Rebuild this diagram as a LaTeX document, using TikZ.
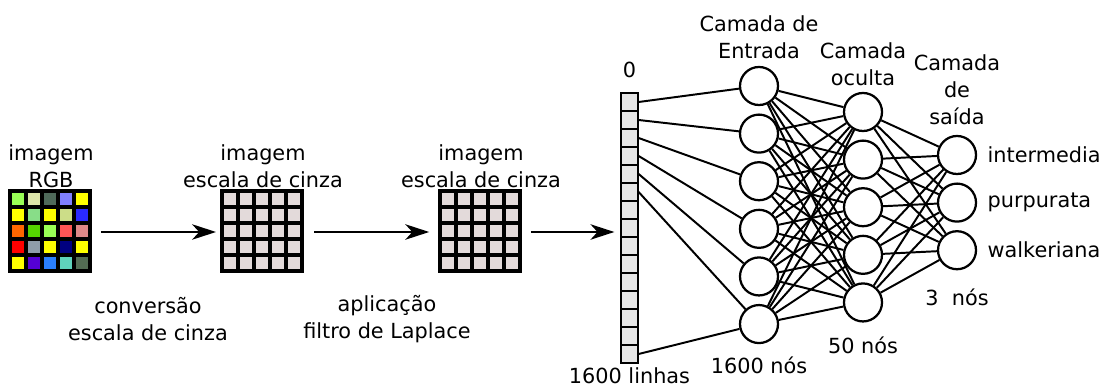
\documentclass[tikz,border=0pt]{standalone}
\usepackage{fontspec}
\setmainfont{DejaVu Sans}
\usepackage{tikz}
\usetikzlibrary{automata, arrows.meta, positioning}
\tikzset{every picture/.style={line width=1.4pt}}
\definecolor{cellgray}{HTML}{E3DADA}
\definecolor{vecgray}{HTML}{E6E6E6}
\definecolor{pxlime}{HTML}{99FF55}
\definecolor{pxpale}{HTML}{DDE5AA}
\definecolor{pxslate}{HTML}{4F6A5A}
\definecolor{pxlav}{HTML}{8080FF}
\definecolor{pxyel}{HTML}{FFFF00}
\definecolor{pxmint}{HTML}{88DD88}
\definecolor{pxolive}{HTML}{CCDD88}
\definecolor{pxblue}{HTML}{2A2AFF}
\definecolor{pxorange}{HTML}{FF6600}
\definecolor{pxgreen}{HTML}{55D400}
\definecolor{pxsalmon}{HTML}{FF5555}
\definecolor{pxrose}{HTML}{DE8888}
\definecolor{pxred}{HTML}{FF0000}
\definecolor{pxsteel}{HTML}{8F9CAA}
\definecolor{pxnavy}{HTML}{000080}
\definecolor{pxviolet}{HTML}{5500D4}
\definecolor{pxazure}{HTML}{2A7FFF}
\definecolor{pxteal}{HTML}{5FD3BC}
\definecolor{pxmoss}{HTML}{536C53}

\begin{document}
\begin{tikzpicture}[x=0.025cm, y=0.025cm, node distance=1.19cm, align=center,
        font=\fontsize{14.8}{19.2}\selectfont,
        every state/.style={draw, line width=1.6pt, fill=white, minimum size=0.95cm, inner sep=0pt},
        imgbox/.style={minimum size=2cm, inner sep=0pt},
        pixcell/.style={draw=black, line width=2.2pt},
        veccell/.style={draw, fill=vecgray, line width=0.9pt, minimum width=0.425cm, minimum height=0.45cm, inner sep=0pt},
        flow/.style={-{Stealth[length=17pt, width=11pt, inset=5pt]}, line width=1.2pt}]
        \useasboundingbox (0,0) rectangle (1108,387);

        % images
        \node[imgbox] (rgb) at (51,155) {};
        \node[imgbox] (gray1) at (263,155) {};
        \node[imgbox] (gray2) at (481,155) {};
        \foreach \px [count=\k from 0] in {pxlime,pxpale,pxslate,pxlav,pxyel,
                pxyel,pxmint,pxyel,pxolive,pxblue,
                pxorange,pxgreen,pxlime,pxsalmon,pxrose,
                pxred,pxsteel,pxyel,pxnavy,pxyel,
                pxyel,pxviolet,pxazure,pxteal,pxmoss}{
            \pgfmathtruncatemacro{\cc}{mod(\k,5)}
            \pgfmathtruncatemacro{\rr}{\k/5}
            \draw[pixcell, fill=\px] ([shift={(16*\cc,-16*\rr)}]rgb.north west) rectangle +(16,-16);
        }
        \foreach \img in {gray1,gray2}
            \foreach \rr in {0,...,4}
                \foreach \cc in {0,...,4}
                    \draw[pixcell, fill=cellgray] ([shift={(16*\cc,-16*\rr)}]\img.north west) rectangle +(16,-16);
        \node[above=-2pt of rgb] (lblrgb) {imagem\\RGB};
        \node[above=-2pt of gray1] (lblgray1) {imagem\\escala de cinza};
        \node[above=-2pt of gray2] (lblgray2) {imagem\\escala de cinza};
        \node (conv) at (148,68) {conversão\\escala de cinza};
        \node (lapl) at (387,68) {aplicação\\filtro de Laplace};

        % vector
        \foreach \i in {0,...,14}
            \node[veccell] (col\i) at (629.5,285-18*\i) {};
        \node[above=6pt of col0] (zero) {0};
        \node[below=-1pt of col14] (linhas) {1600 linhas};

        % network
        \node[state] (in1) at (759,301) {};
        \node[state, below of=in1] (in2) {};
        \node[state, below of=in2] (in3) {};
        \node[state, below of=in3] (in4) {};
        \node[state, below of=in4] (in5) {};
        \node[state, below of=in5] (in6) {};
        \node[state] (hid1) at (863,275) {};
        \node[state, below of=hid1] (hid2) {};
        \node[state, below of=hid2] (hid3) {};
        \node[state, below of=hid3] (hid4) {};
        \node[state, below of=hid4] (hid5) {};
        \node[state] (out1) at (957,232) {};
        \node[state, below of=out1] (out2) {};
        \node[state, below of=out2] (out3) {};

        \node[above=1pt of in1] (lblin) {Camada de\\Entrada};
        \node[above=0pt of hid1] (lblhid) {Camada\\oculta};
        \node[above=3pt of out1] (lblout) {Camada\\de\\saída};
        \node[below=5pt of in6] (nin) {1600 nós};
        \node[below=6pt of hid5] (nhid) {50 nós};
        \node[below=9pt of out3] (nout) {3~ nós};
        \node[right=0.12cm of out1] (cls1) {intermedia};
        \node[right=0.12cm of out2] (cls2) {purpurata};
        \node[right=0.12cm of out3] (cls3) {walkeriana};

        \draw[flow, shorten <=0.22cm, shorten >=0.15cm] (rgb) -- (gray1);
        \draw[flow, shorten <=0.25cm, shorten >=0.27cm] (gray1) -- (gray2);
        \draw[flow, shorten <=0.22cm, shorten >=0.15cm] (gray2.east) -- (gray2.east -| col0.west);
        \draw
            (col0.east) edge (in1)
            (col1.east) edge (in2)
            (col2.east) edge (in3)
            (col3.east) edge (in4)
            (col4.east) edge (in5)
            (col5.east) edge (in6)
            (col14.east) edge (in6)
            ;
        \foreach \i in {1,...,6}
            \foreach \j in {1,...,5}
                \draw (in\i) -- (hid\j);
        \foreach \j in {1,...,5}
            \foreach \k in {1,...,3}
                \draw (hid\j) -- (out\k);
\end{tikzpicture}
\end{document}
